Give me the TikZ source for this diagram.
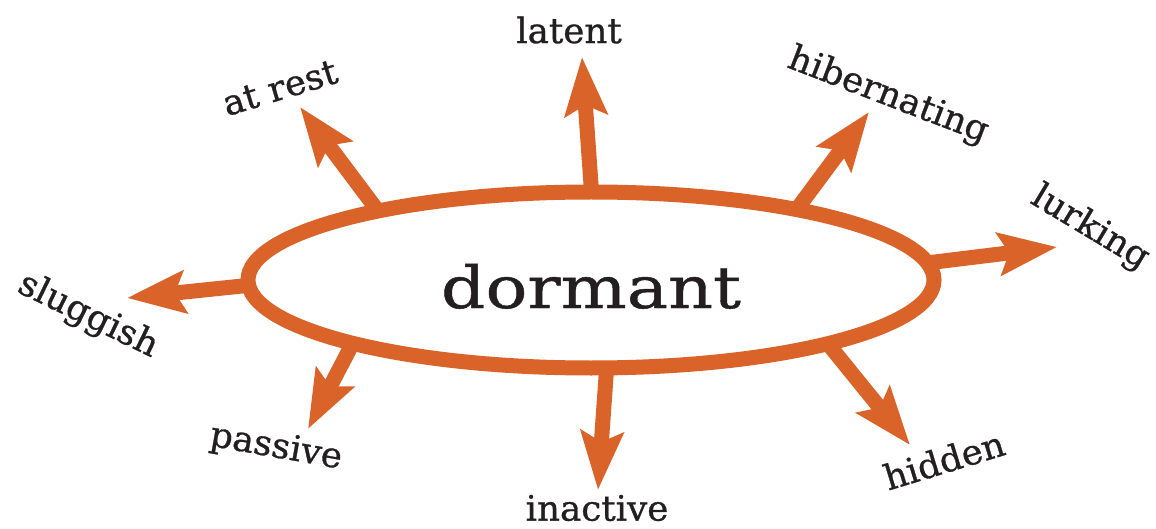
\documentclass[tikz,border=0pt]{standalone}
\usepackage{fontspec}
\usetikzlibrary{shapes.geometric,arrows.meta}
\newfontfamily\bigfont[FakeStretch=1.2,FakeBold=0.8]{DejaVu Serif}
\newfontfamily\labfont[FakeStretch=1.02,FakeBold=0.8]{DejaVu Serif}
\definecolor{orng}{HTML}{D96328}
\definecolor{ink}{HTML}{231F20}
\begin{document}
\begin{tikzpicture}[x=1pt,y=-1pt,
  arr/.style={draw=orng, line width=15pt, shorten <=-7pt,
    -{Stealth[length=58pt,width=42pt,inset=10pt,fill=orng]}},
  lab/.style={text=ink, font=\labfont\fontsize{35}{37}\selectfont, inner sep=0pt}]
\useasboundingbox (0,0) rectangle (1156,529);
\node[ellipse, draw=orng, line width=15pt, minimum width=686pt, minimum height=176pt,
  inner sep=0pt, text=ink, text height=56pt, text depth=0pt,
  font=\bigfont\fontsize{58}{60}\selectfont] (e) at (591,280) {dormant};
\coordinate (tRest) at (300,107);
\coordinate (tLat) at (582,57);
\coordinate (tHib) at (869,112);
\coordinate (tLur) at (1057,247);
\coordinate (tSlu) at (127,298);
\coordinate (tPas) at (308,429);
\coordinate (tIna) at (598,490);
\coordinate (tHid) at (910,445);
\draw[arr] (e.161) -- (tRest);
\draw[arr] (e.90.5) -- (tLat);
\draw[arr] (e.20.1) -- (tHib);
\draw[arr] (e.3.3) -- (tLur);
\draw[arr] (e.181.7) -- (tSlu);
\draw[arr] (e.196.2) -- (tPas);
\draw[arr] (e.279.5) -- (tIna);
\draw[arr] (e.344.8) -- (tHid);
\node[lab] (lLat) at (569,30) {latent};
\node[lab, rotate=17] (lRest) at (280,88) {at rest};
\node[lab, rotate=-21] (lHib) at (888,96) {hibernating};
\node[lab, rotate=-31] (lLur) at (1090,228) {lurking};
\node[lab, rotate=-26] (lSlu) at (88,316) {sluggish};
\node[lab, rotate=-10] (lPas) at (276,448) {passive};
\node[lab] (lIna) at (597,508) {inactive};
\node[lab, rotate=17] (lHid) at (944,460) {hidden};
\end{tikzpicture}
\end{document}
